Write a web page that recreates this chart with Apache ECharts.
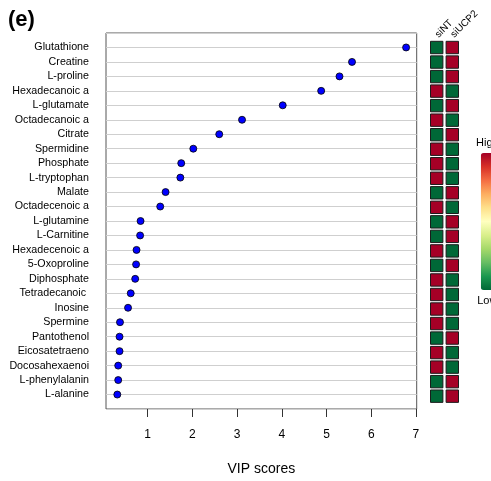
<!DOCTYPE html>
<html>
<head>
<meta charset="utf-8">
<script src="https://cdn.jsdelivr.net/npm/echarts@6/dist/echarts.min.js"></script>
<style>
html,body{margin:0;padding:0;background:#fff;}
#chart{width:491px;height:481px;}
</style>
</head>
<body>
<div id="chart"></div>
<script>
const metabolites = ['Glutathione','Creatine','L-proline','Hexadecanoic a','L-glutamate','Octadecanoic a','Citrate','Spermidine','Phosphate','L-tryptophan','Malate','Octadecenoic a','L-glutamine','L-Carnitine','Hexadecenoic a','5-Oxoproline','Diphosphate','Tetradecanoic ','Inosine','Spermine','Pantothenol','Eicosatetraeno','Docosahexaenoi','L-phenylalanin','L-alanine'];
const vipScores = [6.78,5.57,5.29,4.88,4.02,3.11,2.60,2.02,1.75,1.73,1.40,1.28,0.84,0.83,0.75,0.74,0.72,0.62,0.56,0.38,0.37,0.37,0.34,0.34,0.32];
const groups = ['siNT','siUCP2'];
const siNT   = [0,0,0,1,0,1,0,1,1,1,0,1,0,0,1,0,1,1,1,1,0,1,1,0,0];
const siUCP2 = [1,1,1,0,1,0,1,0,0,0,1,0,1,1,0,1,0,0,0,0,1,0,0,1,1];
const xTicks = [1,2,3,4,5,6,7];
const legendText = ['High','Low'];

const n = metabolites.length;
const dotData = metabolites.map((m,i)=>[vipScores[i], n - i]);
const cellData = [];
metabolites.forEach((m,i)=>{
  cellData.push([groups[0], n - i, siNT[i]]);
  cellData.push([groups[1], n - i, siUCP2[i]]);
});

const chart = echarts.init(document.getElementById('chart'), null, {renderer:'canvas'});
chart.setOption({
  animation:false,
  backgroundColor:'#fff',
  title:{text:'(e)', left:8, top:9, padding:0, textStyle:{fontSize:22, fontWeight:'bold', color:'#000', fontFamily:'Liberation Sans, Arial, sans-serif'}},
  textStyle:{fontFamily:'Liberation Sans, Arial, sans-serif'},
  grid:[
    {left:106, top:33, width:310.7, height:377.7, show:true, borderColor:'#555', borderWidth:1, backgroundColor:'transparent'},
    {left:428.9, top:33, width:31.2, height:377.7}
  ],
  xAxis:[
    {type:'value', gridIndex:0, min:0.067, max:7.017,
     axisLine:{show:false},
     axisTick:{show:true, customValues:xTicks, length:8, lineStyle:{color:'#333'}},
     axisLabel:{customValues:xTicks, fontSize:12, color:'#000', margin:20},
     splitLine:{show:false},
     name:'VIP scores', nameLocation:'middle', nameGap:53, nameTextStyle:{fontSize:14, color:'#000'}},
    {type:'category', gridIndex:1, data:groups, position:'top',
     axisLine:{show:false}, axisTick:{show:false},
     axisLabel:{rotate:45, fontSize:10, color:'#000', margin:-3, interval:0}}
  ],
  yAxis:[
    {type:'value', gridIndex:0, min:0, max:n+1, interval:1,
     axisLine:{show:false}, axisTick:{show:false},
     axisLabel:{fontSize:10.7, color:'#000', margin:17,
       formatter:(v)=> (v>=1 && v<=n) ? metabolites[n - v] : ''},
     splitLine:{show:true, lineStyle:{color:'#cfcfcf', width:1}}},
    {type:'value', gridIndex:1, min:0, max:n+1, show:false}
  ],
  visualMap:{
    type:'continuous', seriesIndex:1, dimension:2, min:0, max:1,
    orient:'vertical', left:476, top:137, itemWidth:13, itemHeight:137,
    text:legendText, textGap:5, padding:0, calculable:false,
    textStyle:{fontSize:11, color:'#000'},
    inRange:{color:['#006837','#1A9850','#66BD63','#A6D96A','#D9EF8B','#FFFFBF','#FEE08B','#FDAE61','#F46D43','#D73027','#A50026']}
  },
  series:[
    {type:'scatter', xAxisIndex:0, yAxisIndex:0, data:dotData, symbol:'circle', symbolSize:7,
     itemStyle:{color:'#0000ff', borderColor:'#000', borderWidth:0.8, opacity:1}, z:5},
    {type:'scatter', xAxisIndex:1, yAxisIndex:1, data:cellData, symbol:'rect', symbolSize:[12.4,12.4],
     itemStyle:{borderColor:'#1a1a1a', borderWidth:1, opacity:1}}
  ]
});
</script>
</body>
</html>
